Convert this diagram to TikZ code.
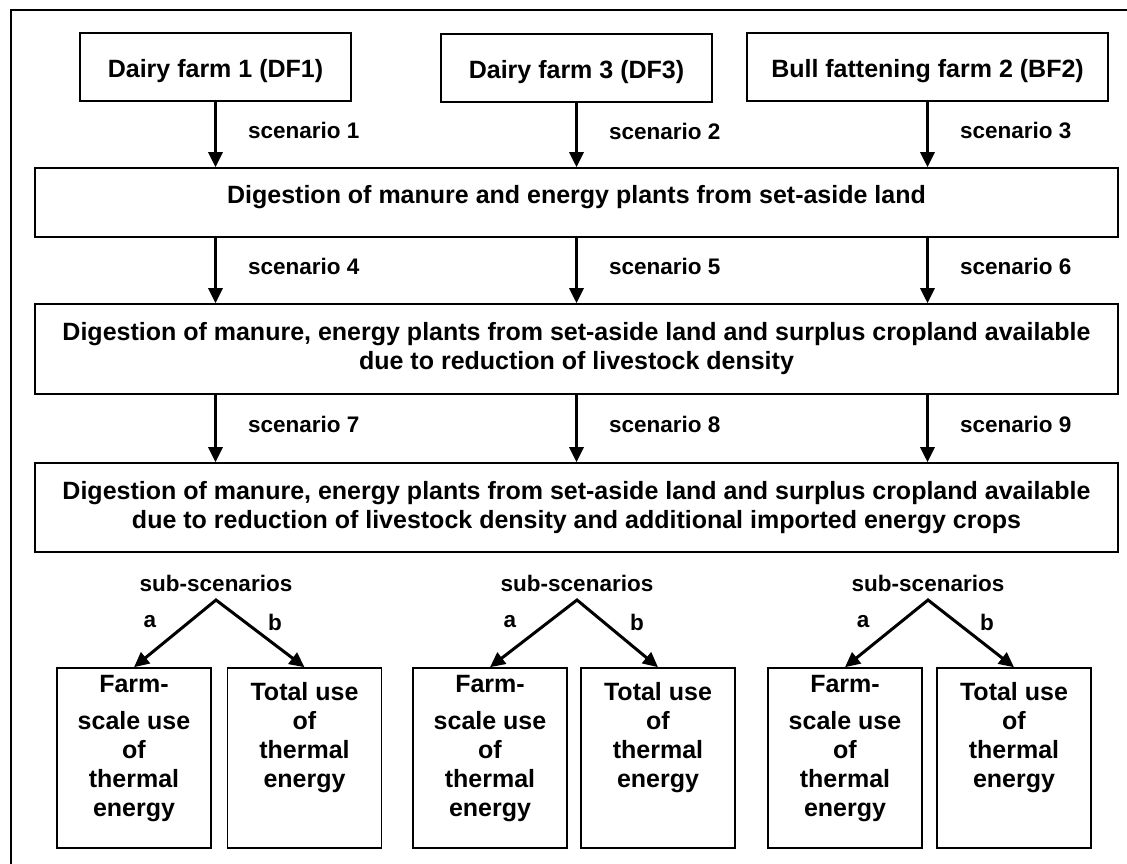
\documentclass[tikz,border=0pt]{standalone}
\usepackage{fontspec}
\setmainfont{Liberation Sans}
\usetikzlibrary{arrows.meta, positioning}

\tikzset{
  farm/.style={draw, line width=1.6pt, inner sep=0pt, minimum height=68pt, font=\bfseries\fontsize{25}{29}\selectfont},
  digest/.style={draw, line width=1.6pt, inner sep=0pt, minimum width=1083pt, align=center, font=\bfseries\fontsize{25}{29}\selectfont},
  use/.style={draw, line width=1.6pt, inner sep=7.5pt, font=\bfseries\fontsize{25}{29}\selectfont},
  scen/.style={inner sep=0pt, font=\bfseries\fontsize{22.5}{26}\selectfont},
  flow/.style={line width=3pt, -{Triangle[length=15pt,width=14pt]}},
  fork/.style={line width=3pt, {Triangle[length=15pt,width=14pt]}-{Triangle[length=15pt,width=14pt]}}
}
\newcommand{\usetext}[1]{\parbox[t][165pt][t]{139pt}{\centering #1}}
\newcommand{\shifttext}[2]{\raisebox{#1}[\height][\depth]{#2}}

\begin{document}
\begin{tikzpicture}[x=1pt, y=-1pt]
\useasboundingbox (0,0) rectangle (1127,863);
\clip (0,0) rectangle (1127,863);
\draw[line width=1.6pt] (11,10) rectangle (1140,880);
% farms
\node[farm, minimum width=271pt] (df1) at (215.5,67) {\shifttext{-4pt}{Dairy farm 1 (DF1)}};
\node[farm, minimum width=271pt] (df3) at (576.5,68) {\shifttext{-4pt}{Dairy farm 3 (DF3)}};
\node[farm, minimum width=361pt] (bf2) at (927.5,67) {\shifttext{-4pt}{Bull fattening farm 2 (BF2)}};
% digestion steps
\node[digest, minimum height=69pt] (dig1) at (576.5,202.5) {\shifttext{5pt}{Digestion of manure and energy plants from set-aside land}};
\node[digest, minimum height=90pt] (dig2) at (576.5,349) {Digestion of manure, energy plants from set-aside land and surplus cropland available\\due to reduction of livestock density};
\node[digest, minimum height=89pt] (dig3) at (576.5,507.5) {Digestion of manure, energy plants from set-aside land and surplus cropland available\\due to reduction of livestock density and additional imported energy crops};
% scenarios
\draw[flow] (df1.south) -- (df1.south |- dig1.north) node[scen, midway, anchor=west, xshift=31pt, yshift=4pt] {scenario 1};
\draw[flow] (df3.south) -- (df3.south |- dig1.north) node[scen, midway, anchor=west, xshift=31pt, yshift=4pt] {scenario 2};
\draw[flow] (bf2.south) -- (bf2.south |- dig1.north) node[scen, midway, anchor=west, xshift=31pt, yshift=4pt] {scenario 3};
\draw[flow] (dig1.south -| df1.south) -- (dig2.north -| df1.south) node[scen, midway, anchor=west, xshift=31pt, yshift=4pt] {scenario 4};
\draw[flow] (dig1.south -| df3.south) -- (dig2.north -| df3.south) node[scen, midway, anchor=west, xshift=31pt, yshift=4pt] {scenario 5};
\draw[flow] (dig1.south -| bf2.south) -- (dig2.north -| bf2.south) node[scen, midway, anchor=west, xshift=31pt, yshift=4pt] {scenario 6};
\draw[flow] (dig2.south -| df1.south) -- (dig3.north -| df1.south) node[scen, midway, anchor=west, xshift=31pt, yshift=4pt] {scenario 7};
\draw[flow] (dig2.south -| df3.south) -- (dig3.north -| df3.south) node[scen, midway, anchor=west, xshift=31pt, yshift=4pt] {scenario 8};
\draw[flow] (dig2.south -| bf2.south) -- (dig3.north -| bf2.south) node[scen, midway, anchor=west, xshift=31pt, yshift=4pt] {scenario 9};
% heat use
\node[use] (farm1) at (134,758) {\usetext{Farm-\\[8pt]scale use\\of\\thermal\\energy}};
\node[use] (tot1) at (304.5,758) {\usetext{\rule{0pt}{24.5pt}Total use\\of\\thermal\\energy}};
\node[use] (farm2) at (490,758) {\usetext{Farm-\\[8pt]scale use\\of\\thermal\\energy}};
\node[use] (tot2) at (658,758) {\usetext{\rule{0pt}{24.5pt}Total use\\of\\thermal\\energy}};
\node[use] (farm3) at (845,758) {\usetext{Farm-\\[8pt]scale use\\of\\thermal\\energy}};
\node[use] (tot3) at (1014,758) {\usetext{\rule{0pt}{24.5pt}Total use\\of\\thermal\\energy}};
% sub-scenarios
\node[scen] (sub1) at (216,583) {sub-scenarios};
\node[scen] (sub2) at (577,583) {sub-scenarios};
\node[scen] (sub3) at (928,583) {sub-scenarios};
\coordinate (ap1) at (216,600);
\coordinate (ap2) at (577,600);
\coordinate (ap3) at (928,600);
\draw[fork] (farm1.north) -- (ap1) -- (tot1.north);
\draw[fork] (farm2.north) -- (ap2) -- (tot2.north);
\draw[fork] (farm3.north) -- (ap3) -- (tot3.north);
\node[scen] (a1) at (150,622) {a};
\node[scen] (b1) at (275,622) {b};
\node[scen] (a2) at (510,622) {a};
\node[scen] (b2) at (637,622) {b};
\node[scen] (a3) at (863,622) {a};
\node[scen] (b3) at (987,622) {b};
\end{tikzpicture}
\end{document}
